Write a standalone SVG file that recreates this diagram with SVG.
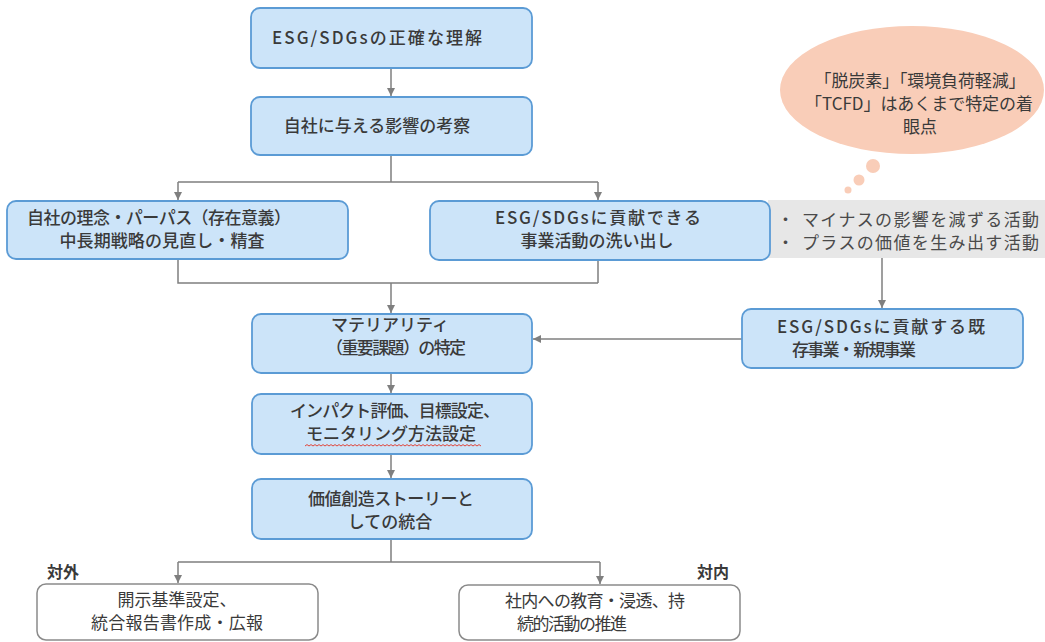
<svg xmlns="http://www.w3.org/2000/svg" width="1045" height="642" viewBox="0 0 1045 642">
<defs>
<marker id="arr" markerUnits="userSpaceOnUse" markerWidth="9" markerHeight="9" refX="8" refY="4" orient="auto">
<path d="M0,0 L8,4 L0,8 z" fill="#7f7f7f"/>
</marker>
<style>
.box{fill:#cce4f9;stroke:#5b9bd5;stroke-width:1.8}
.wbox{fill:#ffffff;stroke:#8a8a8a;stroke-width:1.5}
.t{font-family:"Noto Sans CJK JP","Noto Sans",sans-serif;font-size:17px;font-weight:500;fill:#3a3a3a}
.r{font-weight:400}
.m{text-anchor:middle}
.g{font-family:"Noto Sans CJK JP","Noto Sans",sans-serif;font-size:17px;fill:#4a4a4a}
.lbl{font-family:"Noto Sans CJK JP","Noto Sans",sans-serif;font-size:16px;font-weight:700;fill:#3a3a3a}
.c{fill:none;stroke:#7f7f7f;stroke-width:1.5}
.ca{fill:none;stroke:#7f7f7f;stroke-width:1.5;marker-end:url(#arr)}
.bub{fill:#f9cdb8}
</style>
</defs>
<rect width="1045" height="642" fill="#ffffff"/>

<g id="bubble">
<ellipse class="bub" cx="912" cy="90" rx="132" ry="64"/>
<circle class="bub" cx="873" cy="166" r="7"/>
<circle class="bub" cx="859" cy="180" r="5.5"/>
<circle class="bub" cx="848" cy="190" r="3.5"/>
<text class="t m r" x="920" y="87" textLength="211">「脱炭素」「環境負荷軽減」</text>
<text class="t m r" x="919" y="110" textLength="228">「TCFD」はあくまで特定の着</text>
<text class="t m r" x="920" y="133">眼点</text>
</g>

<g id="connectors">
<path class="ca" d="M391,68 V96"/>
<path class="c" d="M391,155 V182 M178,182 H598"/>
<path class="ca" d="M178,182 V200"/>
<path class="ca" d="M598,182 V200"/>
<path class="c" d="M178,259 V283 H598 M598,260 V283"/>
<path class="ca" d="M391,283 V313"/>
<path class="ca" d="M882,258 V308"/>
<path class="ca" d="M742,339 H533"/>
<path class="ca" d="M391,373 V393"/>
<path class="ca" d="M391,454 V478"/>
<path class="c" d="M391,539 V562 M178,562 H600"/>
<path class="ca" d="M178,562 V583"/>
<path class="ca" d="M600,562 V584"/>
</g>

<g id="n1">
<rect class="box" x="251" y="8" width="281" height="60" rx="9"/>
<text class="t m" x="377" y="44" textLength="210">ESG/SDGsの正確な理解</text>
</g>
<g id="n2">
<rect class="box" x="251" y="97" width="281" height="58" rx="9"/>
<text class="t m" x="377" y="132">自社に与える影響の考察</text>
</g>
<g id="n3">
<rect class="box" x="7" y="201" width="341" height="58" rx="9"/>
<text class="t m" x="159" y="224" textLength="264">自社の理念・パーパス（存在意義）</text>
<text class="t m" x="162" y="247" textLength="205">中長期戦略の見直し・精査</text>
</g>
<g id="n4">
<rect x="768" y="200" width="277" height="58" fill="#e7e7e7"/>
<text class="g" x="777" y="226">・</text>
<text class="g" x="802" y="226" textLength="237">マイナスの影響を減ずる活動</text>
<text class="g" x="777" y="249">・</text>
<text class="g" x="802" y="249" textLength="237">プラスの価値を生み出す活動</text>
</g>
<g id="n5">
<rect class="box" x="430" y="201" width="340" height="59" rx="9"/>
<text class="t m" x="598" y="224" textLength="206">ESG/SDGsに貢献できる</text>
<text class="t m" x="597" y="247">事業活動の洗い出し</text>
</g>
<g id="n6">
<rect class="box" x="252" y="314" width="280" height="59" rx="9"/>
<text class="t m" x="390" y="331">マテリアリティ</text>
<text class="t m" x="396" y="354" textLength="140">（重要課題）の特定</text>
</g>
<g id="n7">
<rect class="box" x="742" y="309" width="281" height="59" rx="9"/>
<text class="t" x="777" y="333" textLength="208">ESG/SDGsに貢献する既</text>
<text class="t" x="792" y="356" textLength="124">存事業・新規事業</text>
</g>
<g id="n8">
<rect class="box" x="252" y="394" width="280" height="60" rx="9"/>
<text class="t m" x="395" y="417" textLength="210">インパクト評価、目標設定、</text>
<text class="t m" x="391" y="440">モニタリング方法設定</text>
<path d="M305,446 l2,-1.4 2,1.4 2,-1.4 2,1.4 2,-1.4 2,1.4 2,-1.4 2,1.4 2,-1.4 2,1.4 2,-1.4 2,1.4 2,-1.4 2,1.4 2,-1.4 2,1.4 2,-1.4 2,1.4 2,-1.4 2,1.4 2,-1.4 2,1.4 2,-1.4 2,1.4 2,-1.4 2,1.4 2,-1.4 2,1.4 2,-1.4 2,1.4 2,-1.4 2,1.4 2,-1.4 2,1.4 2,-1.4 2,1.4 2,-1.4 2,1.4 2,-1.4 2,1.4 2,-1.4 2,1.4 2,-1.4 2,1.4 2,-1.4 2,1.4 2,-1.4 2,1.4 2,-1.4 2,1.4 2,-1.4 2,1.4 2,-1.4 2,1.4 2,-1.4 2,1.4 2,-1.4 2,1.4 2,-1.4 2,1.4 2,-1.4 2,1.4 2,-1.4 2,1.4 2,-1.4 2,1.4 2,-1.4 2,1.4 2,-1.4 2,1.4 2,-1.4 2,1.4 2,-1.4 2,1.4 2,-1.4 2,1.4 2,-1.4 2,1.4 2,-1.4 2,1.4 2,-1.4 2,1.4 2,-1.4 2,1.4 2,-1.4 2,1.4 2,-1.4 2,1.4" fill="none" stroke="#e0453a" stroke-width="1"/>
</g>
<g id="n9">
<rect class="box" x="252" y="479" width="280" height="60" rx="9"/>
<text class="t m" x="391" y="505" textLength="166">価値創造ストーリーと</text>
<text class="t m" x="390" y="528">しての統合</text>
</g>
<g id="n10">
<text class="lbl" x="47" y="578">対外</text>
<rect class="wbox" x="37" y="584" width="281" height="56" rx="9"/>
<text class="t m r" x="177" y="606">開示基準設定、</text>
<text class="t m r" x="177" y="629" textLength="172">統合報告書作成・広報</text>
</g>
<g id="n11">
<text class="lbl" x="697" y="578">対内</text>
<rect class="wbox" x="459" y="585" width="281" height="55" rx="9"/>
<text class="t r" x="505" y="607" textLength="180">社内への教育・浸透、持</text>
<text class="t r" x="517" y="630" textLength="110">続的活動の推進</text>
</g>
</svg>
